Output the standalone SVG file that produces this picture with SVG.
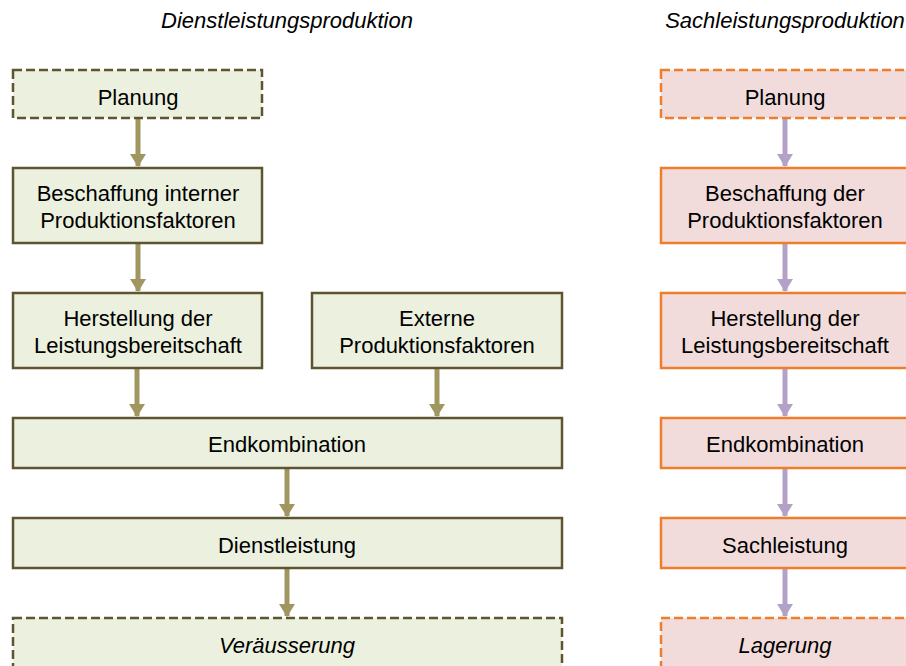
<svg xmlns="http://www.w3.org/2000/svg" width="906" height="666" viewBox="0 0 906 666">
  <defs>
    <style>
      text { font-family: "Liberation Sans", Arial, sans-serif; font-size: 22px; fill: #000; text-anchor: middle; }
      .title { font-style: italic; }
      .it { font-style: italic; }
      .dl rect { fill: #EBF1DE; stroke: #5E5432; stroke-width: 2.5; }
      .sl rect { fill: #F2DCDB; stroke: #EE7E2C; stroke-width: 2.5; }
      .dashed rect { stroke-dasharray: 9 4; }
      .arrow-dl line { stroke: #A09660; stroke-width: 5; }
      .arrow-sl line { stroke: #B3A2C7; stroke-width: 5; }
    </style>
    <!-- arrowheads: 13 px long, 16 px wide, tip 1 px past the line end -->
    <marker id="headDl" viewBox="0 0 13 16" refX="12" refY="8" markerWidth="13" markerHeight="16" markerUnits="userSpaceOnUse" orient="auto">
      <path d="M0,0 L13,8 L0,16 Z" fill="#A09660"/>
    </marker>
    <marker id="headSl" viewBox="0 0 13 16" refX="12" refY="8" markerWidth="13" markerHeight="16" markerUnits="userSpaceOnUse" orient="auto">
      <path d="M0,0 L13,8 L0,16 Z" fill="#B3A2C7"/>
    </marker>
  </defs>

  <rect width="906" height="666" fill="#fff"/>

  <!-- column headings -->
  <text class="title" x="287" y="28">Dienstleistungsproduktion</text>
  <text class="title" x="785" y="28">Sachleistungsproduktion</text>

  <!-- connectors -->
  <g id="connectors">
    <g class="arrow-dl">
      <line x1="138" y1="119" x2="138" y2="166" marker-end="url(#headDl)"/>
      <line x1="138" y1="244" x2="138" y2="291" marker-end="url(#headDl)"/>
      <line x1="137" y1="369" x2="137" y2="416" marker-end="url(#headDl)"/>
      <line x1="437" y1="369" x2="437" y2="416" marker-end="url(#headDl)"/>
      <line x1="287" y1="469" x2="287" y2="516" marker-end="url(#headDl)"/>
      <line x1="287" y1="569" x2="287" y2="616" marker-end="url(#headDl)"/>
    </g>
    <g class="arrow-sl">
      <line x1="785" y1="119" x2="785" y2="166" marker-end="url(#headSl)"/>
      <line x1="785" y1="244" x2="785" y2="291" marker-end="url(#headSl)"/>
      <line x1="785" y1="369" x2="785" y2="416" marker-end="url(#headSl)"/>
      <line x1="785" y1="469" x2="785" y2="516" marker-end="url(#headSl)"/>
      <line x1="785" y1="569" x2="785" y2="616" marker-end="url(#headSl)"/>
    </g>
  </g>

  <!-- Dienstleistungsproduktion -->
  <g id="dl-planung" class="dl dashed">
    <rect x="13" y="70" width="249" height="48"/>
    <text x="138" y="105">Planung</text>
  </g>
  <g id="dl-beschaffung" class="dl">
    <rect x="13" y="168" width="249" height="75"/>
    <text x="138" y="200.5">Beschaffung interner</text>
    <text x="138" y="227.5">Produktionsfaktoren</text>
  </g>
  <g id="dl-herstellung" class="dl">
    <rect x="13" y="293" width="249" height="75"/>
    <text x="138" y="326">Herstellung der</text>
    <text x="138" y="353">Leistungsbereitschaft</text>
  </g>
  <g id="dl-extern" class="dl">
    <rect x="312" y="293" width="250" height="75"/>
    <text x="437" y="326">Externe</text>
    <text x="437" y="353">Produktionsfaktoren</text>
  </g>
  <g id="dl-endkombination" class="dl">
    <rect x="13" y="418" width="549" height="50"/>
    <text x="287" y="451.5">Endkombination</text>
  </g>
  <g id="dl-dienstleistung" class="dl">
    <rect x="13" y="518" width="549" height="50"/>
    <text x="287" y="552.5">Dienstleistung</text>
  </g>
  <g id="dl-veraeusserung" class="dl dashed">
    <rect x="13" y="618" width="549" height="50"/>
    <text class="it" x="287" y="652.5">Veräusserung</text>
  </g>

  <!-- Sachleistungsproduktion -->
  <g id="sl-planung" class="sl dashed">
    <rect x="661" y="70" width="249" height="48"/>
    <text x="785" y="104.5">Planung</text>
  </g>
  <g id="sl-beschaffung" class="sl">
    <rect x="661" y="168" width="249" height="75"/>
    <text x="785" y="200.5">Beschaffung der</text>
    <text x="785" y="227.5">Produktionsfaktoren</text>
  </g>
  <g id="sl-herstellung" class="sl">
    <rect x="661" y="293" width="249" height="75"/>
    <text x="785" y="326">Herstellung der</text>
    <text x="785" y="353">Leistungsbereitschaft</text>
  </g>
  <g id="sl-endkombination" class="sl">
    <rect x="661" y="418" width="249" height="50"/>
    <text x="785" y="451.5">Endkombination</text>
  </g>
  <g id="sl-sachleistung" class="sl">
    <rect x="661" y="518" width="249" height="50"/>
    <text x="785" y="552.5">Sachleistung</text>
  </g>
  <g id="sl-lagerung" class="sl dashed">
    <rect x="661" y="618" width="249" height="50"/>
    <text class="it" x="785" y="652.5">Lagerung</text>
  </g>
</svg>
